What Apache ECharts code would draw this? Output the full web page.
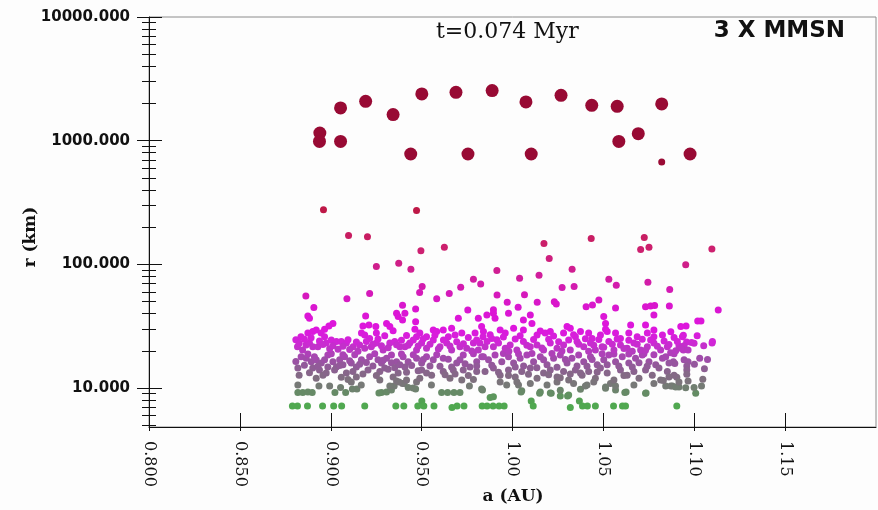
<!DOCTYPE html>
<html><head><meta charset="utf-8">
<script src="https://cdn.jsdelivr.net/npm/echarts@6/dist/echarts.min.js"></script>
<style>html,body{margin:0;padding:0;background:#fdfdfd}#c{width:878px;height:510px}</style>
</head><body><div id="c"></div>
<script>
// ---------- data: [a (AU), r (km)] ----------
const bigBodies = [[0.894,1154],[0.8938,987],[0.9054,1840],[0.9054,987],[0.9192,2080],[0.9343,1625],[0.9501,2388],[0.944,780],[0.9689,2461],[0.9888,2541],[1.0074,2056],[1.0267,2327],[1.0436,1932],[1.0576,1896],[1.0821,1983],[1.0585,987],[1.0692,1140],[0.9755,780],[1.0103,780],[1.0821,672],[1.0977,780]];
const upperBodies = [[0.896,276],[0.9472,273],[0.9098,171],[0.9202,167],[0.9496,128.6],[0.9251,96],[0.9374,102],[0.9441,91.4],[0.9503,66.1],[0.9489,59.1],[0.9214,58.0],[0.9089,52.6],[0.8863,55.6],[0.9583,52.6],[0.8907,44.7],[0.9395,46.7],[0.9467,43.6],[0.9625,137.8],[1.0173,147.4],[1.0433,161.8],[1.0725,164.8],[1.0705,131.8],[1.0751,137.8],[1.1097,132.8],[1.0202,111.4],[1.0953,99.1],[1.0328,91.4],[0.9914,89.1],[0.9785,75.9],[0.9825,69.5],[0.9715,65.4],[1.0039,77.3],[1.0146,81.7],[1.053,75.9],[1.0571,67.8],[1.0273,64.9],[1.0339,66.1],[1.0745,71.8],[1.0865,62.5],[0.9652,58.0],[0.9915,56.6],[1.0066,56.8],[0.9971,49.4],[1.0136,49.4],[1.023,49.9],[1.0241,47.9],[1.0475,51.6],[1.044,47.0],[1.0405,45.5],[1.0031,45.0],[1.0567,44.4],[1.0732,45.5],[1.076,46.0],[1.0782,46.4],[1.0863,46.1],[1.1132,42.8],[0.9754,42.8],[0.9895,43.0],[0.9895,40.2],[0.9978,40.2]];
const midBodies = [[1.1019,34.9],[1.1037,34.9],[1.0955,31.8],[1.094,26.7],[1.0935,26.0],[1.0958,23.6],[1.0985,23.3],[1.0999,23.0],[1.0916,22.0],[1.0944,22.0],[1.094,20.3],[1.0966,20.3],[1.1098,23.1],[1.087,19.3],
[1.0098,39.0],[1.0778,39.0],[0.9904,36.7],[1.006,35.5],[1.0107,33.3],[1.03,31.5],[1.0281,27.8],[1.0502,37.8],[1.0512,33.3],[1.065,32.4],[1.0732,32.4],[1.0778,29.5],[1.0926,31.5],
[0.984,28.6],[0.9886,25.2],[0.9932,29.5],[0.996,27.8],[1.0006,30.4],[1.006,29.5],[1.0135,26.8],[1.018,27.8],[1.0208,28.6],[1.0318,30.4],[1.0346,26.0],[1.0374,28.6],[1.0419,27.8],[1.0438,25.2],[1.0484,26.8],[1.0521,28.6],[1.0567,27.8],[1.0594,25.2],[1.064,27.8],[1.0686,26.0],[1.0742,27.8],[1.0778,26.0],[1.0825,26.8],[1.11,23.8],
[0.982,23.1],[0.986,23.8],[0.9895,21.6],[0.9923,23.1],[0.996,21.0],[0.9987,22.3],[1.0024,20.3],[1.006,23.8],[1.0098,21.6],[1.0135,22.3],[1.0171,20.3],[1.0208,23.1],[1.0245,21.0],[1.0281,22.3],[1.0318,20.3],[1.0355,23.8],[1.0392,21.6],[1.0429,23.1],[1.0456,20.3],[1.0493,21.6],[1.053,23.8],[1.0558,20.3],[1.0594,22.3],[1.0631,21.0],[1.0668,23.1],[1.0705,20.3],[1.0742,21.6],[1.0778,23.1],[1.0815,20.3],[1.0852,21.6],[1.0907,23.8],[1.0926,21.0],
[0.8874,38.3],[0.8883,36.7],[0.9012,33.3],[0.899,31.8],[0.8966,29.9],[0.9192,38.3],[0.921,32.4],[0.9248,31.5],[0.9177,31.8],[0.9307,33.3],[0.9362,40.2],[0.9371,37.8],[0.9408,40.2],[0.9395,35.5],[0.9467,34.4],[0.9564,29.5],[0.9583,28.6],[0.9619,29.5],[0.9702,36.7],[0.9812,36.7],[0.9859,39.0],
[0.8808,24.6],[0.8836,26.0],[0.8874,27.8],[0.8901,28.6],[0.892,29.5],[0.8947,27.8],[0.8966,26.0],[0.9169,27.8],[0.9187,26.8],[0.9214,25.2],[0.9251,27.8],[0.9325,31.5],[0.949,27.8],[0.9472,26.0],[0.9527,26.0],[0.9647,26.0],[0.9684,26.8],[0.9721,27.8],[0.9794,27.8],[0.9838,26.0],
[0.8817,21.6],[0.8845,20.3],[0.8864,22.3],[0.8883,23.1],[0.8901,21.6],[0.8929,21.6],[0.8975,23.1],[0.9003,24.5],[0.9031,23.8],[0.9058,23.8],[0.9086,23.1],[0.9123,21.6],[0.9159,22.3],[0.9187,21.0],[0.9223,21.6],[0.9251,23.1],[0.9288,20.3],[0.9325,23.1],[0.9352,23.8],[0.938,21.6],[0.9408,21.6],[0.9435,23.1],[0.9472,20.3],[0.95,23.1],[0.9527,21.0],[0.9564,24.5],[0.9601,21.6],[0.9638,23.1],[0.9665,20.3],[0.9711,21.6],[0.9748,21.0],[0.9785,23.1],[0.9812,20.3],[0.9849,21.6],
[0.8826,23.0],[0.8855,24.8],[0.8892,25.5],[0.8938,24.0],[0.8957,22.5],[0.8994,20.8],[0.9012,22.0],[0.904,20.6],[0.9067,21.8],[0.9095,24.6],[0.9104,20.5],[0.9141,23.6],[0.915,19.8],[0.9196,23.8],[0.9232,22.6],[0.926,24.9],[0.9279,22.0],[0.9297,26.5],[0.9316,21.2],[0.9343,29.0],[0.9362,22.4],[0.9389,24.3],[0.9417,26.6],[0.9426,22.2],[0.9454,24.4],[0.9463,29.8],[0.9481,21.9],[0.9509,25.0],[0.9546,22.6],[0.9573,26.7],[0.9592,20.7],[0.962,24.4],[0.9656,21.9],[0.9665,30.5],[0.9693,23.7],[0.973,22.8],[0.9757,25.6],[0.9776,19.9],[0.9803,24.4],[0.983,31.5],
[0.9877,27.0],[0.9914,24.6],[0.995,25.8],[0.998,19.8],[1.0015,24.9],[1.0042,26.5],[1.0079,22.2],[1.0116,24.7],[1.0153,28.9],[1.0162,21.1],[1.0199,24.8],[1.0226,26.4],[1.0254,23.7],[1.0272,19.9],[1.0309,24.5],[1.0336,27.0],[1.0364,22.6],[1.0401,25.0],[1.0419,19.8],[1.0447,22.2],[1.0475,24.7],[1.0502,21.4],[1.0512,29.8],[1.0549,22.6],[1.0576,24.9],[1.0613,20.9],[1.064,24.3],[1.0659,19.8],[1.0686,22.6],[1.0714,24.8],[1.0732,20.2],[1.076,24.4],[1.0797,21.8],[1.0834,24.0],[1.0861,22.5],[1.0889,25.6],[1.0898,20.0],[1.1016,26.5],[1.1052,22.0],[1.0871,28.5]];
const lowerBodies = [[1.103,17.4],[1.0944,16.9],[1.0966,16.3],[1.0885,16.3],[1.0893,15.8],[1.0959,15.1],[1.0959,14.0],[1.1056,14.3],[1.0959,12.9],[1.0904,12.2],[1.1047,11.8],[1.0966,11.4],[1.0916,11.2],
[0.9831,17.9],[0.9868,16.9],[0.9904,18.5],[0.9941,16.3],[0.9978,17.9],[1.0006,15.9],[1.0042,17.4],[1.0079,18.5],[1.0116,16.3],[1.0153,17.9],[1.019,15.4],[1.0226,17.4],[1.0263,18.5],[1.03,15.9],[1.0327,17.4],[1.0364,18.5],[1.0392,16.3],[1.0429,17.9],[1.0466,15.4],[1.0502,16.9],[1.053,18.5],[1.0567,16.3],[1.0604,17.9],[1.064,15.9],[1.0677,17.4],[1.0714,18.5],[1.0751,16.3],[1.0788,15.4],[1.0825,17.4],[1.0861,15.9],
[0.9849,13.6],[0.9895,14.5],[0.9932,12.7],[0.9978,14.0],[1.0015,12.3],[1.0051,13.6],[1.0098,14.5],[1.0135,12.0],[1.0171,13.2],[1.0208,14.0],[1.0245,12.3],[1.0281,13.6],[1.0309,11.6],[1.0346,14.0],[1.0383,12.7],[1.0419,13.6],[1.0456,12.0],[1.0484,14.5],[1.0521,13.2],[1.0558,11.6],[1.0594,14.0],[1.0631,12.7],[1.0668,13.6],[1.0696,12.0],[1.0732,14.0],[1.0769,12.7],[1.0815,11.6],[1.0852,13.6],[1.0889,12.7],
[0.8837,17.9],[0.8865,17.4],[0.8893,16.3],[0.892,16.9],[0.8948,15.9],[0.8984,18.5],[0.9012,16.3],[0.9049,16.9],[0.9076,17.9],[0.9113,15.9],[0.9141,14.8],[0.9169,16.9],[0.9214,17.9],[0.926,16.9],[0.9279,15.9],[0.9307,17.4],[0.9334,18.5],[0.9362,16.3],[0.9398,17.9],[0.9426,16.3],[0.9472,17.4],[0.95,15.9],[0.9527,17.9],[0.9564,16.9],[0.9619,17.4],[0.9665,14.8],[0.9693,15.9],[0.9729,18.5],[0.9766,14.8],[0.9803,16.3],[0.984,17.9],
[0.8819,14.5],[0.8901,14.5],[0.8938,14.0],[0.8984,14.8],[0.9031,14.8],[0.9067,15.4],[0.9122,13.6],[0.9205,14.0],[0.927,13.6],[0.9297,14.5],[0.9371,13.2],[0.9408,14.8],[0.95,14.0],[0.9527,13.2],[0.9619,13.6],[0.9674,14.0],[0.9729,14.0],[0.9803,13.6],
[0.892,12.0],[0.8957,12.7],[0.9058,12.2],[0.9095,11.7],[0.9113,11.2],[0.9141,12.3],[0.927,11.6],[0.9343,12.3],[0.9362,11.4],[0.9417,11.6],[0.9472,11.2],[0.949,12.0],[0.9656,12.0],[0.9721,11.6],[0.9785,11.7],[0.9376,11.2],
[0.9932,11.2],[1.0024,11.2],[1.0245,11.2],[1.0447,11.2],[1.083,11.5],
[0.8808,16.4],[0.8826,12.7],[0.8855,15.3],[0.8874,18.8],[0.8883,13.3],[0.891,17.9],[0.8929,15.0],[0.8966,16.9],[0.8975,13.2],[0.9003,18.9],[0.9021,14.0],[0.9049,15.2],[0.9067,18.6],[0.9086,13.2],[0.9104,16.6],[0.9132,18.6],[0.9159,15.6],[0.9177,13.0],[0.9196,16.1],[0.9232,15.1],[0.9242,18.9],[0.9251,12.6],[0.9288,16.8],[0.9316,14.2],[0.9334,16.0],[0.9352,14.6],[0.938,15.4],[0.9389,18.8],[0.9417,13.4],[0.9445,15.2],[0.9454,18.6],[0.9481,13.8],[0.9509,17.0],[0.9546,15.1],[0.9555,12.7],[0.9583,18.6],[0.9601,15.0],[0.9629,12.8],[0.9647,17.1],[0.9684,13.0],[0.9711,16.9],[0.9739,15.7],[0.9757,12.6],[0.9785,18.9],[0.9803,15.1],
[0.9886,15.3],[0.9923,13.4],[0.995,19.0],[0.9978,12.6],[1.0015,14.8],[1.0033,18.9],[1.0061,15.1],[1.0088,12.9],[1.0107,19.0],[1.0134,14.6],[1.0171,16.9],[1.0199,12.8],[1.0217,19.0],[1.0245,14.7],[1.0263,12.1],[1.0291,17.0],[1.0318,13.0],[1.0355,15.1],[1.0374,13.2],[1.041,15.0],[1.0438,17.0],[1.0466,13.5],[1.0493,18.9],[1.0521,15.4],[1.0558,18.8],[1.0585,15.1],[1.0613,12.6],[1.064,18.8],[1.0659,14.8],[1.0696,16.0],[1.0723,18.9],[1.0741,15.0],[1.0778,18.6],[1.0806,14.5],[1.0843,17.9],[1.0861,12.3],[1.0889,18.9],[1.1001,15.6],[1.1073,17.0]];
const grayBodies = [[1.088,10.4],[1.0916,10.2],[1.0953,10.05],[1.104,10.4],[1.1008,9.06],
[0.9835,9.63],[0.9877,8.4],[0.9895,8.5],[0.9968,10.6],[1.0051,9.5],[1.0098,10.9],[1.0153,9.3],[1.019,10.6],[1.0213,9.06],[1.0263,8.62],[1.0303,8.62],[1.0336,10.9],[1.0374,9.76],[1.041,10.6],[1.0512,9.94],[1.0539,10.9],[1.0567,9.63],[1.0625,9.3],[1.0668,10.6],[1.0732,9.06],[1.0778,10.9],[1.0999,10.1],
[1.0047,9.3],[1.0149,9.06],[1.0208,9.1],[1.0263,9.6],[1.0309,8.8],[1.0401,10.4],[1.0512,10.2],[1.0567,10.4],[1.0618,9.2],[1.0735,9.1],[1.0843,10.4],[1.0871,10.4],[1.0898,10.2],
[0.9395,10.9],[0.9554,10.6],[0.8819,9.2],[0.8846,9.2],[0.8874,9.3],[0.8898,9.2],[0.8935,10.4],[0.8994,10.4],[0.9023,9.2],[0.9054,10.1],[0.9082,9.2],[0.9119,9.8],[0.9144,9.8],[0.9279,9.2],[0.9307,9.3],[0.9334,9.63],[0.9349,10.4],[0.9404,10.9],[0.9426,10.1],[0.9467,9.8],[0.961,9.2],[0.9643,9.2],[0.9678,9.2],[0.9711,9.2],[0.9763,10.4],[0.983,9.8],[0.8819,10.6],[0.9168,10.6],[0.9325,10.4],[0.9453,10.0],[1.0033,10.6],[0.9265,9.1]];
const greenBodies = [[0.8789,7.15],[0.8817,7.15],[0.8872,7.15],[0.8955,7.15],[0.9016,7.15],[0.906,7.15],[0.9187,7.15],[0.9358,7.15],[0.9402,7.15],[0.9479,7.15],[0.9501,7.86],[0.9512,7.15],[0.9568,7.15],[0.9667,6.95],[0.9695,7.15],[0.9733,7.15],[0.9833,7.15],[0.986,7.15],[0.9893,7.15],[0.9926,7.15],[0.9954,7.15],[1.0103,7.86],[1.0114,7.15],[1.0318,6.95],[1.0368,7.86],[1.0385,7.15],[1.0412,7.15],[1.0456,7.15],[1.0556,7.15],[1.0605,7.15],[1.0622,7.15],[1.0904,7.15]];

const xTicks = [0.80,0.85,0.90,0.95,1.00,1.05,1.10,1.15];
const xTickLabels = ['0.800','0.850','0.900','0.950','1.00','1.05','1.10','1.15'];
const yMajorTicks = [10,100,1000,10000];
const yMinorTicks = [5,6,7,8,9,20,30,40,50,60,70,80,90,200,300,400,500,600,700,800,900,2000,3000,4000,5000,6000,7000,8000,9000];
const titleText = 't=0.074 Myr';
const labelText = '3 X MMSN';
const xName = 'a (AU)';
const yName = 'r (km)';

// ---------- styling ----------
const colorStops = [[7.2,[80,168,80]],[8,[84,160,84]],[9.2,[102,138,102]],[10.5,[118,122,118]],[12,[128,110,128]],[14.5,[142,94,148]],[17,[158,78,168]],[20,[182,58,192]],[24,[210,36,216]],[30,[222,22,222]],[45,[218,22,208]],[70,[210,28,170]],[130,[205,32,112]],[280,[190,24,70]],[700,[152,10,52]]];
function colorFor(r){
  const lr = Math.log(r);
  if (r <= colorStops[0][0]) return 'rgb(' + colorStops[0][1].join(',') + ')';
  for (let i = 1; i < colorStops.length; i++) {
    if (r <= colorStops[i][0]) {
      const a = colorStops[i-1], b = colorStops[i];
      const t = (lr - Math.log(a[0])) / (Math.log(b[0]) - Math.log(a[0]));
      const c = a[1].map((v, k) => Math.round(v + (b[1][k] - v) * t));
      return 'rgb(' + c.join(',') + ')';
    }
  }
  return 'rgb(' + colorStops[colorStops.length-1][1].join(',') + ')';
}
function mkSeries(name, data, z){
  return {
    name, type: 'scatter', data, z,
    symbolSize: v => (v[1] >= 700 ? 13 : 7),
    itemStyle: { color: p => colorFor(p.value[1]), opacity: 1 },
    emphasis: { disabled: true }, animation: false
  };
}
const yMin = 4.84, yMax = 10000;
const serif = '"DejaVu Serif", serif';
function yAxisBase(extra){
  return Object.assign({
    type: 'log', logBase: 10, min: yMin, max: yMax, position: 'left', offset: 0,
    axisLine: { show: false }, splitLine: { show: false }, axisLabel: { show: false },
    axisTick: { show: true }
  }, extra);
}
const chart = echarts.init(document.getElementById('c'), null, { renderer: 'canvas' });
chart.setOption({
  backgroundColor: '#fdfdfd',
  animation: false,
  grid: { left: 149, top: 17, right: 2, bottom: 83, show: true, borderColor: '#8c8c8c', borderWidth: 1, backgroundColor: 'transparent' },
  xAxis: [
    { type: 'value', min: 0.8, max: 1.2, position: 'bottom', offset: 0,
      axisLine: { show: true, lineStyle: { color: '#111', width: 1 } },
      axisTick: { show: true, inside: true, length: 14, customValues: xTicks, lineStyle: { color: '#111' } },
      axisLabel: { show: true, customValues: xTicks, rotate: -90, margin: 14, color: '#111', fontFamily: serif, fontSize: 16,
        formatter: v => { const i = xTicks.findIndex(t => Math.abs(t - v) < 1e-6); return i >= 0 ? xTickLabels[i] : ''; } },
      splitLine: { show: false } },
    { type: 'value', min: 0.8, max: 1.2, position: 'bottom', offset: 0,
      axisLine: { show: false }, axisLabel: { show: false }, splitLine: { show: false },
      axisTick: { show: true, inside: false, length: 4, customValues: xTicks, lineStyle: { color: '#111' } } }
  ],
  yAxis: [
    yAxisBase({ axisLine: { show: true, lineStyle: { color: '#111' } },
      axisTick: { show: true, inside: false, length: 12, customValues: yMajorTicks, lineStyle: { color: '#111' } },
      axisLabel: { show: true, customValues: yMajorTicks, margin: 19, color: '#111', fontFamily: '"DejaVu Sans", sans-serif', fontWeight: 'bold', fontSize: 15,
        formatter: v => Number(v).toFixed(3) } }),
    yAxisBase({ axisTick: { show: true, inside: true, length: 13, customValues: yMajorTicks, lineStyle: { color: '#111' } } }),
    yAxisBase({ axisTick: { show: true, inside: false, length: 7, customValues: yMinorTicks, lineStyle: { color: '#111' } } }),
    yAxisBase({ axisTick: { show: true, inside: true, length: 7, customValues: yMinorTicks, lineStyle: { color: '#111' } } })
  ],
  series: [
    mkSeries('green', greenBodies, 2),
    mkSeries('gray', grayBodies, 3),
    mkSeries('lower', lowerBodies, 4),
    mkSeries('mid', midBodies, 5),
    mkSeries('upper', upperBodies, 6),
    mkSeries('big', bigBodies, 7)
  ],
  graphic: [
    { type: 'text', x: 436, y: 32, style: { text: titleText, fill: '#111', font: '22px "DejaVu Serif"', align: 'left', verticalAlign: 'middle' } },
    { type: 'text', x: 845, y: 31, style: { text: labelText, fill: '#111', font: 'bold 23px "DejaVu Sans"', align: 'right', verticalAlign: 'middle' } },
    { type: 'text', x: 513, y: 497, style: { text: xName, fill: '#111', font: 'bold 17px "DejaVu Serif"', align: 'center', verticalAlign: 'middle' } },
    { type: 'text', x: 31, y: 237, rotation: Math.PI / 2, style: { text: yName, fill: '#111', font: 'bold 17px "DejaVu Serif"', align: 'center', verticalAlign: 'middle' } }
  ]
});
</script>
</body></html>
